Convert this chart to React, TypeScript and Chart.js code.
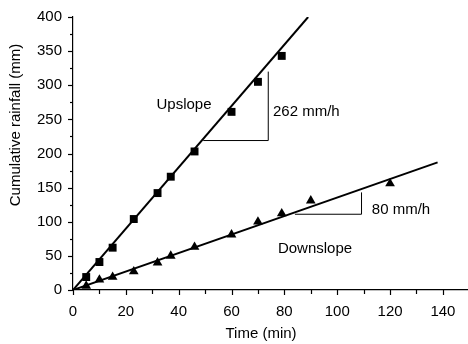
import React, { useEffect, useRef } from "react";
import { Chart, registerables } from "chart.js";

Chart.register(...registerables);

// Upslope (squares)
const upTime = [5, 10, 15, 23, 32, 37, 46, 60, 70, 79];
const upRain = [19, 41, 62, 104, 142, 166, 203, 261, 305, 343];
// Downslope (triangles)
const downTime = [5, 10, 15, 23, 32, 37, 46, 60, 70, 79, 90, 120];
const downRain = [6, 15, 19, 27, 40, 50, 63, 81, 100, 112, 131, 156];
// Fitted lines
const upFitTime = [0, 89];
const upFitRain = [0, 400];
const downFitTime = [0, 138];
const downFitRain = [0, 187];
// Slope triangles
const upSlopeTime = [49.3, 73.9, 73.9];
const upSlopeRain = [219, 219, 320];
const downSlopeTime = [84, 109.2, 109.2];
const downSlopeRain = [111, 111, 143];
// Tick labels
const xTickLabels = [0, 20, 40, 60, 80, 100, 120, 140];
const yTickLabels = [0, 50, 100, 150, 200, 250, 300, 350, 400];

const xTitle = "Time (min)";
const yTitle = "Cumulative rainfall (mm)";
const labels = [
  { text: "Upslope", x: 42, y: 271, align: "center" },
  { text: "262 mm/h", x: 75.7, y: 261, align: "left" },
  { text: "Downslope", x: 91.6, y: 61, align: "center" },
  { text: "80 mm/h", x: 113.1, y: 118, align: "left" },
];

const FONT = "'Liberation Sans', Arial, Helvetica, sans-serif";

const zip = (xs: number[], ys: number[]) => xs.map((x, i) => ({ x, y: ys[i] }));

const decoPlugin = {
  id: "deco",
  afterDraw(chart: any) {
    const { ctx, scales, chartArea } = chart;
    const xs = scales.x;
    const ys = scales.y;
    ctx.save();
    ctx.strokeStyle = "#000";
    ctx.lineWidth = 1.2;
    // x ticks
    for (let v = 0; v <= 140; v += 10) {
      const px = Math.round(xs.getPixelForValue(v)) + 0.5;
      const len = v % 20 === 0 ? 5 : 4;
      ctx.beginPath();
      ctx.moveTo(px, chartArea.bottom);
      ctx.lineTo(px, chartArea.bottom + len);
      ctx.stroke();
    }
    // y ticks
    for (let v = 0; v <= 400; v += 25) {
      const py = Math.round(ys.getPixelForValue(v)) + 0.5;
      const len = v % 50 === 0 ? 5 : 3;
      ctx.beginPath();
      ctx.moveTo(chartArea.left, py);
      ctx.lineTo(chartArea.left - len, py);
      ctx.stroke();
    }
    // annotation text
    ctx.fillStyle = "#000";
    ctx.font = `15px ${FONT}`;
    ctx.textBaseline = "middle";
    labels.forEach((l) => {
      ctx.textAlign = l.align as CanvasTextAlign;
      ctx.fillText(l.text, xs.getPixelForValue(l.x), ys.getPixelForValue(l.y));
    });
    // axis titles
    ctx.textAlign = "center";
    ctx.fillText(xTitle, 261, 334);
    ctx.translate(16, 125);
    ctx.rotate(-Math.PI / 2);
    ctx.fillText(yTitle, 0, 0);
    ctx.restore();
  },
};

export default function App() {
  const ref = useRef<HTMLCanvasElement>(null);
  useEffect(() => {
    if (!ref.current) return;
    const chart = new Chart(ref.current, {
      type: "scatter",
      data: {
        datasets: [
          {
            data: zip(upFitTime, upFitRain),
            showLine: true,
            borderColor: "#000",
            borderWidth: 2,
            pointRadius: 0,
          },
          {
            data: zip(downFitTime, downFitRain),
            showLine: true,
            borderColor: "#000",
            borderWidth: 2,
            pointRadius: 0,
          },
          {
            data: zip(upSlopeTime, upSlopeRain),
            showLine: true,
            borderColor: "#000",
            borderWidth: 1,
            pointRadius: 0,
          },
          {
            data: zip(downSlopeTime, downSlopeRain),
            showLine: true,
            borderColor: "#000",
            borderWidth: 1,
            pointRadius: 0,
          },
          {
            data: zip(upTime, upRain),
            pointStyle: "rect",
            pointRadius: 5.6,
            backgroundColor: "#000",
            borderColor: "#000",
            borderWidth: 0,
          },
          {
            data: zip(downTime, downRain),
            pointStyle: "triangle",
            pointRadius: 5.6,
            backgroundColor: "#000",
            borderColor: "#000",
            borderWidth: 0,
          },
        ],
      },
      options: {
        animation: false,
        responsive: false,
        maintainAspectRatio: false,
        layout: { autoPadding: false, padding: { top: 17, left: 0, right: 0, bottom: 0 } },
        plugins: { legend: { display: false }, tooltip: { enabled: false } },
        scales: {
          x: {
            type: "linear",
            min: 0,
            max: 149.5,
            afterFit: (s: any) => {
              s.height = 54;
              s.paddingLeft = 0;
              s.paddingRight = 0;
            },
            border: { display: true, color: "#000", width: 1.2 },
            grid: { display: false, drawTicks: false },
            ticks: {
              stepSize: 20,
              includeBounds: false,
              padding: 13,
              color: "#000",
              font: { family: FONT, size: 15 },
              maxRotation: 0,
              callback: (v: any) => (xTickLabels.includes(Number(v)) ? String(v) : ""),
            },
          },
          y: {
            type: "linear",
            min: 0,
            max: 400,
            afterFit: (s: any) => {
              s.width = 73;
              s.paddingTop = 0;
              s.paddingBottom = 0;
            },
            border: { display: true, color: "#000", width: 1.2 },
            grid: { display: false, drawTicks: false },
            ticks: {
              stepSize: 50,
              padding: 11,
              color: "#000",
              font: { family: FONT, size: 15 },
              callback: (v: any) => (yTickLabels.includes(Number(v)) ? String(v) : ""),
            },
          },
        },
      },
      plugins: [decoPlugin],
    });
    return () => chart.destroy();
  }, []);
  return (
    <div style={{ position: "fixed", left: 0, top: 0, width: 468, height: 344, background: "#fff" }}>
      <canvas ref={ref} width={468} height={344} style={{ width: 468, height: 344, display: "block" }} />
    </div>
  );
}
